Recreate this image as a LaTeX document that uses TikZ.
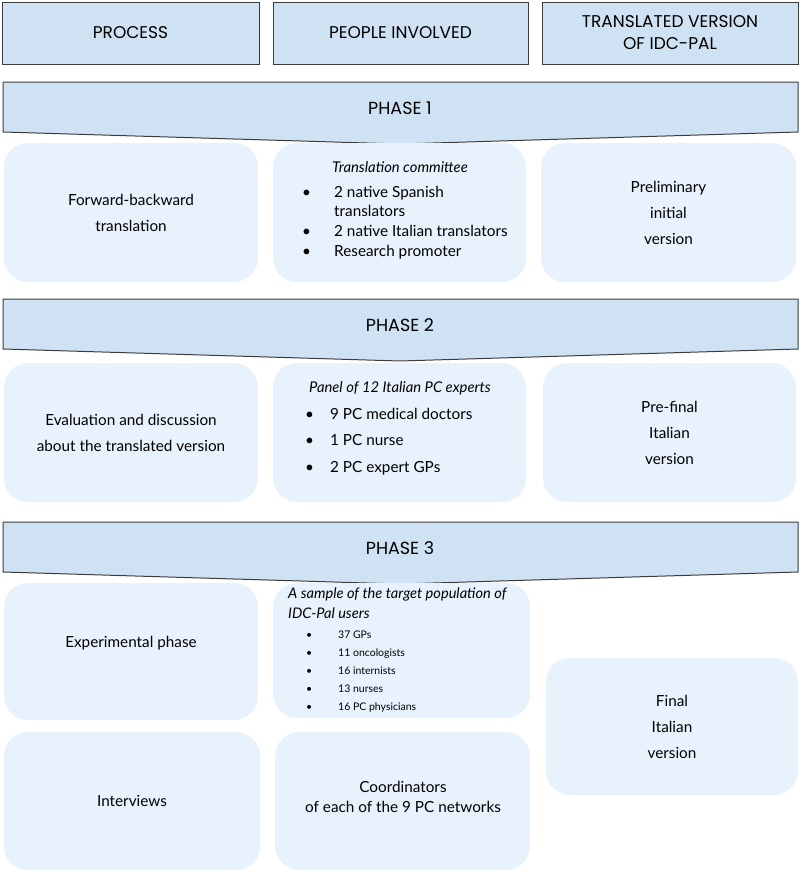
\documentclass[tikz,border=0pt]{standalone}
\usepackage{fontspec}
\setmainfont{Lato}
\newfontfamily\headfont{Poppins}
\usetikzlibrary{calc, positioning}
\definecolor{headblue}{HTML}{CFE2F3}
\definecolor{cellblue}{HTML}{E8F2FC}
\definecolor{edgegray}{HTML}{3C3C3C}
\tikzset{
  header/.style={draw=edgegray, line width=1pt, fill=headblue, align=center,
    font={\headfont\fontsize{17}{22}\selectfont}},
  phasebar/.style={draw=edgegray, line width=1pt, fill=headblue},
  phasetxt/.style={font={\headfont\fontsize{17.5}{18}\selectfont}},
  cell/.style={fill=cellblue, rounded corners=24pt, align=center,
    font={\fontsize{15.3}{26}\selectfont}},
  listtxt/.style={anchor=west, inner sep=0pt, align=left},
}
\newcommand{\bul}[1]{\makebox[#1][l]{\textbullet}}
\begin{document}
\begin{tikzpicture}[x=1pt, y=-1pt]
\useasboundingbox (0,0) rectangle (800,871);
\def\hw{256}
\def\hh{62}

\node[header, minimum width=257, minimum height=\hh] (hproc) at (130.5,33) {PROCESS};
\node[header, minimum width=255, minimum height=\hh] (hpeople) at (400.5,33) {PEOPLE INVOLVED};
\node[header, minimum width=\hw, minimum height=\hh] (hversion) at (670,33) {TRANSLATED VERSION\\OF IDC-PAL};

\foreach \n/\t in {1/82, 2/299, 3/522} {
  \draw[phasebar] (3,\t) -- (798,\t) -- (798,\t+50) -- (400,\t+62) -- (3,\t+50) -- cycle;
  \node[phasetxt] (phase\n) at (400,\t+26) {PHASE \n};
}

\node[cell, minimum width=254, minimum height=139] (p1proc) at (131,212.5) {Forward-backward\\translation};
\node[cell, minimum width=253, minimum height=139] (p1people) at (399.5,212.5) {};
\node[cell, minimum width=255, minimum height=139] (p1version) at (668.5,212.5) {Preliminary\\initial\\version};
\node[font={\itshape\fontsize{14.8}{18}\selectfont}] (p1title) at (400,167) {Translation committee};
\node[listtxt, font={\fontsize{15.3}{19.7}\selectfont}] (p1list) at (302,222.5)
  {\bul{32pt}2 native Spanish\\\hspace*{32pt}translators\\\bul{32pt}2 native Italian translators\\\bul{32pt}Research promoter};

\node[cell, minimum width=254, minimum height=139] (p2proc) at (131,432.5) {Evaluation and discussion\\about the translated version};
\node[cell, minimum width=253, minimum height=139] (p2people) at (399.5,432.5) {};
\node[cell, minimum width=253, minimum height=139] (p2version) at (669.5,432.5) {Pre-final\\Italian\\version};
\node[font={\itshape\fontsize{14.8}{18}\selectfont}] (p2title) at (400,388) {Panel of 12 Italian PC experts};
\node[listtxt, font={\fontsize{15.3}{26.5}\selectfont}] (p2list) at (305,441.5)
  {\bul{25pt}9 PC medical doctors\\\bul{25pt}1 PC nurse\\\bul{25pt}2 PC expert GPs};

\node[cell, minimum width=254, minimum height=137] (p3proc) at (131,651.5) {};
\node[cell, minimum width=257, minimum height=135] (p3people) at (401.5,650.5) {};
\node[cell, minimum width=256, minimum height=138] (p3interv) at (132,801) {Interviews};
\node[cell, minimum width=255, minimum height=138] (p3coord) at (402.5,801) {};
\node[cell, minimum width=252, minimum height=137] (p3version) at (672,726.5) {Final\\Italian\\version};
\node[font={\fontsize{15.3}{18}\selectfont}] (p3exp) at (131,643) {Experimental phase};
\node[align=center, font={\fontsize{15.3}{20}\selectfont}] (p3coordtxt) at (403,797) {Coordinators\\of each of the 9 PC networks};
\node[listtxt, font={\itshape\fontsize{14.6}{20}\selectfont}] (p3title) at (288,603)
  {A sample of the target population of\\IDC-Pal users};
\node[listtxt, font={\fontsize{10.5}{18}\selectfont}] (p3list) at (306,672)
  {\bul{32pt}37 GPs\\\bul{32pt}11 oncologists\\\bul{32pt}16 internists\\\bul{32pt}13 nurses\\\bul{32pt}16 PC physicians};
\end{tikzpicture}
\end{document}
